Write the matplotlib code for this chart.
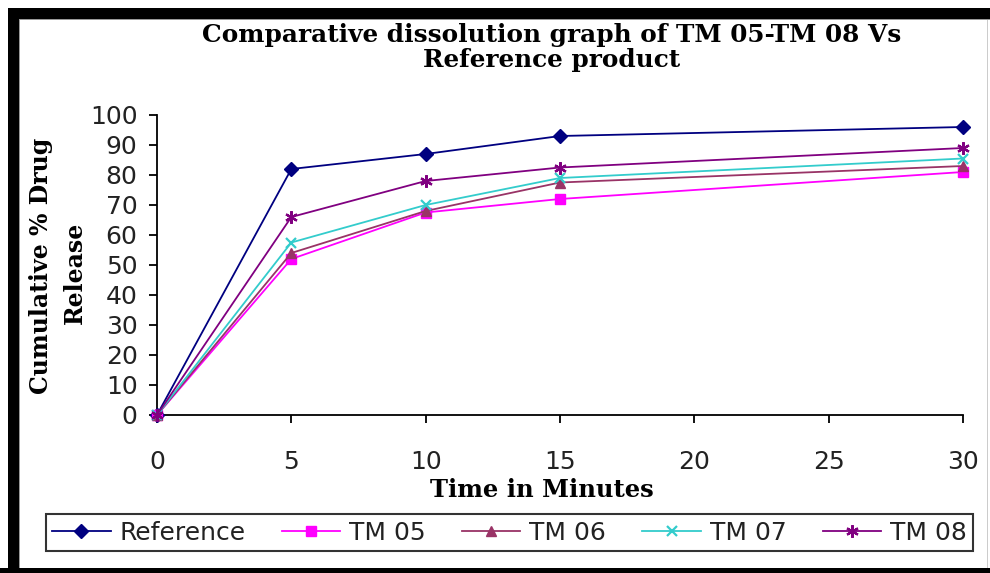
import matplotlib
matplotlib.use("Agg")
import matplotlib.pyplot as plt
from matplotlib.patches import Rectangle

time_min = [0, 5, 10, 15, 30]
reference = [0, 82, 87, 93, 96]
tm05 = [0, 52, 67.5, 72, 81]
tm06 = [0, 54, 68, 77.5, 83]
tm07 = [0, 57.5, 70, 79, 85.5]
tm08 = [0, 66, 78, 82.5, 89]

series_names = ["Reference", "TM 05", "TM 06", "TM 07", "TM 08"]
series_values = [reference, tm05, tm06, tm07, tm08]
colors = ["#000080", "#FF00FF", "#993366", "#33CCCC", "#800080"]
markers = ["D", "s", "^", "x", (6, 2, 0)]
msizes = [7, 6.5, 7.5, 7, 9]

x_ticks = [0, 5, 10, 15, 20, 25, 30]
y_ticks = list(range(0, 101, 10))

W, H = 990, 573
fig = plt.figure(figsize=(W / 100, H / 100), dpi=100)
fig.patch.set_facecolor("white")


def frect(x0, y0, x1, y1, color):
    # pixel coords from top-left
    fig.add_artist(Rectangle((x0 / W, 1 - y1 / H), (x1 - x0) / W, (y1 - y0) / H,
                             transform=fig.transFigure, color=color, zorder=10, lw=0))


frect(8, 8, 990, 19, "black")
frect(8, 8, 19, 573, "black")
frect(0, 568, 990, 573, "black")
frect(19, 19, 990, 20, "#999999")
frect(19, 19, 20, 568, "#999999")
frect(987, 20, 988, 568, "#cccccc")

ax = fig.add_axes([157 / W, 1 - 415 / H, (963 - 157) / W, 300 / H])
for name, vals, c, m, ms in zip(series_names, series_values, colors, markers, msizes):
    mew = 1.6 if m in ("x",) or isinstance(m, tuple) else 1
    ax.plot(time_min, vals, color=c, marker=m, markersize=ms, linewidth=1.3,
            markeredgewidth=mew, label=name, clip_on=False, zorder=3)

ax.set_xlim(0, 30)
ax.set_ylim(0, 100)
ax.set_xticks(x_ticks)
ax.set_yticks(y_ticks)
ax.spines["top"].set_visible(False)
ax.spines["right"].set_visible(False)
ax.spines["left"].set_linewidth(1.3)
ax.spines["bottom"].set_linewidth(1.3)
ax.tick_params(axis="both", direction="out", length=6, width=1.3, labelsize=18,
               labelcolor="#222222")
ax.tick_params(axis="x", pad=19)
ax.tick_params(axis="y", pad=8)
for lab in ax.get_xticklabels() + ax.get_yticklabels():
    lab.set_family("DejaVu Sans")

fig.text(542 / W, 1 - 490 / H, "Time in Minutes", ha="center", va="center",
         family="DejaVu Serif", fontweight="bold", fontsize=17.5)
fig.text(41 / W, 1 - 266 / H, "Cumulative % Drug", ha="center", va="center", rotation=90,
         family="DejaVu Serif", fontweight="bold", fontsize=17)
fig.text(75 / W, 1 - 273 / H, "Release", ha="center", va="center", rotation=90,
         family="DejaVu Serif", fontweight="bold", fontsize=17)

fig.text(552 / W, 1 - 35 / H, "Comparative dissolution graph of TM 05-TM 08 Vs",
         ha="center", va="center", family="DejaVu Serif", fontweight="bold", fontsize=17.8)
fig.text(552 / W, 1 - 60 / H, "Reference product",
         ha="center", va="center", family="DejaVu Serif", fontweight="bold", fontsize=17.8)

leg = fig.legend(loc="center", bbox_to_anchor=(509.5 / W, 1 - 532.5 / H), ncol=5, frameon=True,
                 fancybox=False, edgecolor="black", prop={"family": "DejaVu Sans", "size": 18},
                 handlelength=2.33, columnspacing=1.45, handletextpad=0.36, borderpad=0.25,
                 borderaxespad=0)
leg.get_frame().set_linewidth(1.5)
for t in leg.get_texts():
    t.set_color("#222222")

fig.savefig("out.png", dpi=100, facecolor="white")
